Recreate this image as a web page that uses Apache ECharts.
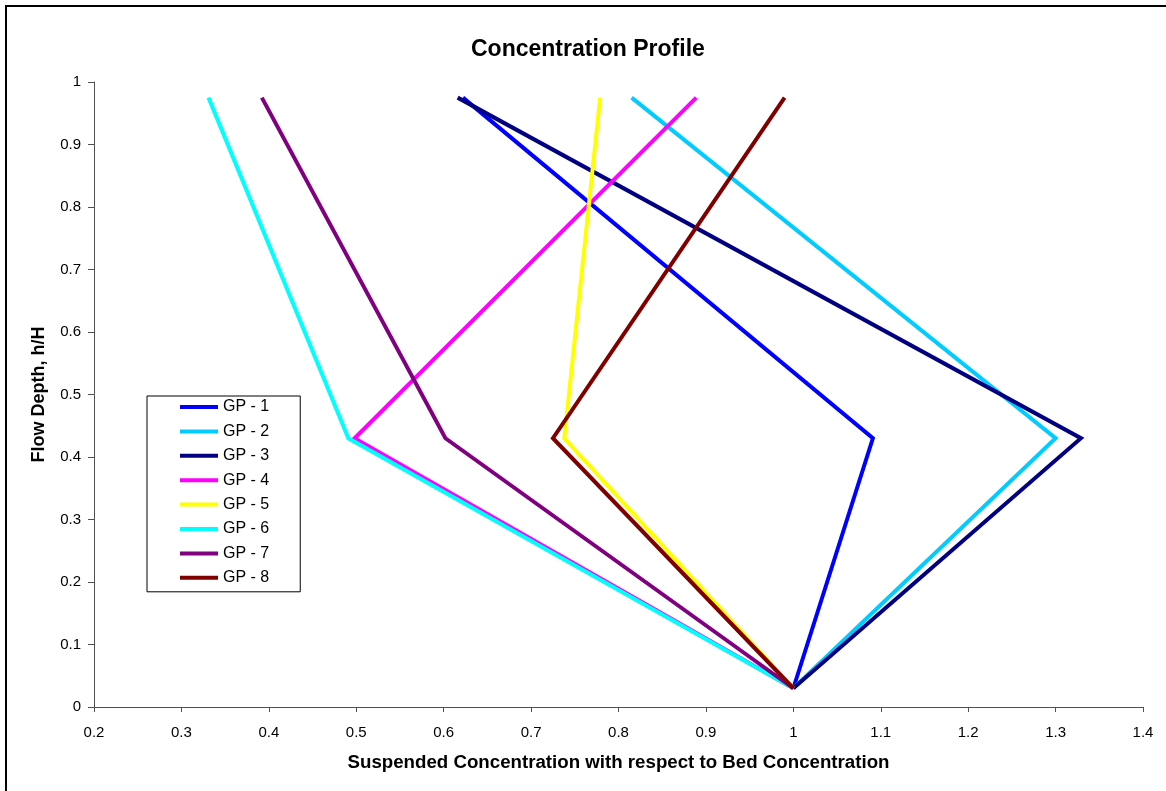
<!DOCTYPE html>
<html>
<head>
<meta charset="utf-8">
<script src="https://cdn.jsdelivr.net/npm/echarts@6/dist/echarts.min.js"></script>
<style>
html,body{margin:0;padding:0;background:#fff;}
#chart{width:1166px;height:791px;}
</style>
</head>
<body>
<div id="chart"></div>
<script>
// Flow depth levels (h/H)
const depths = [0.03, 0.43, 0.975];
const seriesNames = ['GP - 1', 'GP - 2', 'GP - 3', 'GP - 4', 'GP - 5', 'GP - 6', 'GP - 7', 'GP - 8'];
// Suspended concentration relative to bed concentration, per depth level
const gp1 = [1.0, 1.091, 0.622];
const gp2 = [1.0, 1.300, 0.815];
const gp3 = [1.0, 1.329, 0.616];
const gp4 = [1.0, 0.498, 0.889];
const gp5 = [1.0, 0.738, 0.779];
const gp6 = [1.0, 0.491, 0.331];
const gp7 = [1.0, 0.602, 0.392];
const gp8 = [1.0, 0.725, 0.990];
const seriesValues = [gp1, gp2, gp3, gp4, gp5, gp6, gp7, gp8];
const colors = ['#0000FF', '#00CCFF', '#000080', '#FF00FF', '#FFFF00', '#00FFFF', '#800080', '#800000'];

const FONT = 'Liberation Sans, Arial, sans-serif';
const chart = echarts.init(document.getElementById('chart'), null, {renderer: 'canvas'});

const series = seriesNames.map((name, i) => ({
  name: name,
  type: 'line',
  data: seriesValues[i].map((v, k) => [v, depths[k]]),
  symbol: 'none',
  showSymbol: false,
  lineStyle: {width: 4, color: colors[i], join: 'miter'},
  itemStyle: {color: colors[i]},
  z: 2 + i
}));

const fmt = v => String(+v.toFixed(1));

chart.setOption({
  animation: false,
  backgroundColor: '#ffffff',
  textStyle: {fontFamily: FONT},
  graphic: [{
    type: 'rect',
    shape: {x: 6, y: 6, width: 1300, height: 1000},
    style: {fill: 'none', stroke: '#000', lineWidth: 2},
    silent: true
  }],
  title: {
    text: 'Concentration Profile',
    left: 471,
    top: 38,
    padding: 0,
    textStyle: {fontFamily: FONT, fontSize: 23, fontWeight: 'bold', color: '#000'}
  },
  legend: {
    orient: 'vertical',
    left: 147,
    top: 396,
    padding: [2, 31, 5, 33],
    itemWidth: 38,
    itemHeight: 4,
    itemGap: 6.4,
    icon: 'rect',
    borderColor: '#000',
    borderWidth: 1,
    backgroundColor: '#fff',
    data: seriesNames,
    textStyle: {fontFamily: FONT, fontSize: 16, color: '#000', lineHeight: 18}
  },
  grid: {left: 94, right: 23, top: 82, bottom: 84, containLabel: false},
  xAxis: {
    type: 'value',
    min: 0.2,
    max: 1.4,
    interval: 0.1,
    name: 'Suspended Concentration with respect to Bed Concentration',
    nameLocation: 'middle',
    nameGap: 46,
    nameTextStyle: {fontFamily: FONT, fontSize: 18.7, fontWeight: 'bold', color: '#000'},
    axisLine: {show: true, onZero: false, lineStyle: {color: '#505050', width: 1}},
    axisTick: {show: true, length: 5, lineStyle: {color: '#505050'}},
    axisLabel: {fontFamily: FONT, fontSize: 15, color: '#000', margin: 18, formatter: fmt},
    splitLine: {show: false}
  },
  yAxis: {
    type: 'value',
    min: 0,
    max: 1,
    interval: 0.1,
    name: 'Flow Depth, h/H',
    nameLocation: 'middle',
    nameGap: 46,
    nameRotate: 90,
    nameTextStyle: {fontFamily: FONT, fontSize: 18, fontWeight: 'bold', color: '#000'},
    axisLine: {show: true, onZero: false, lineStyle: {color: '#505050', width: 1}},
    axisTick: {show: true, length: 6, lineStyle: {color: '#505050'}},
    axisLabel: {fontFamily: FONT, fontSize: 15, color: '#000', margin: 13, formatter: fmt},
    splitLine: {show: false}
  },
  series: series
});
</script>
</body>
</html>
